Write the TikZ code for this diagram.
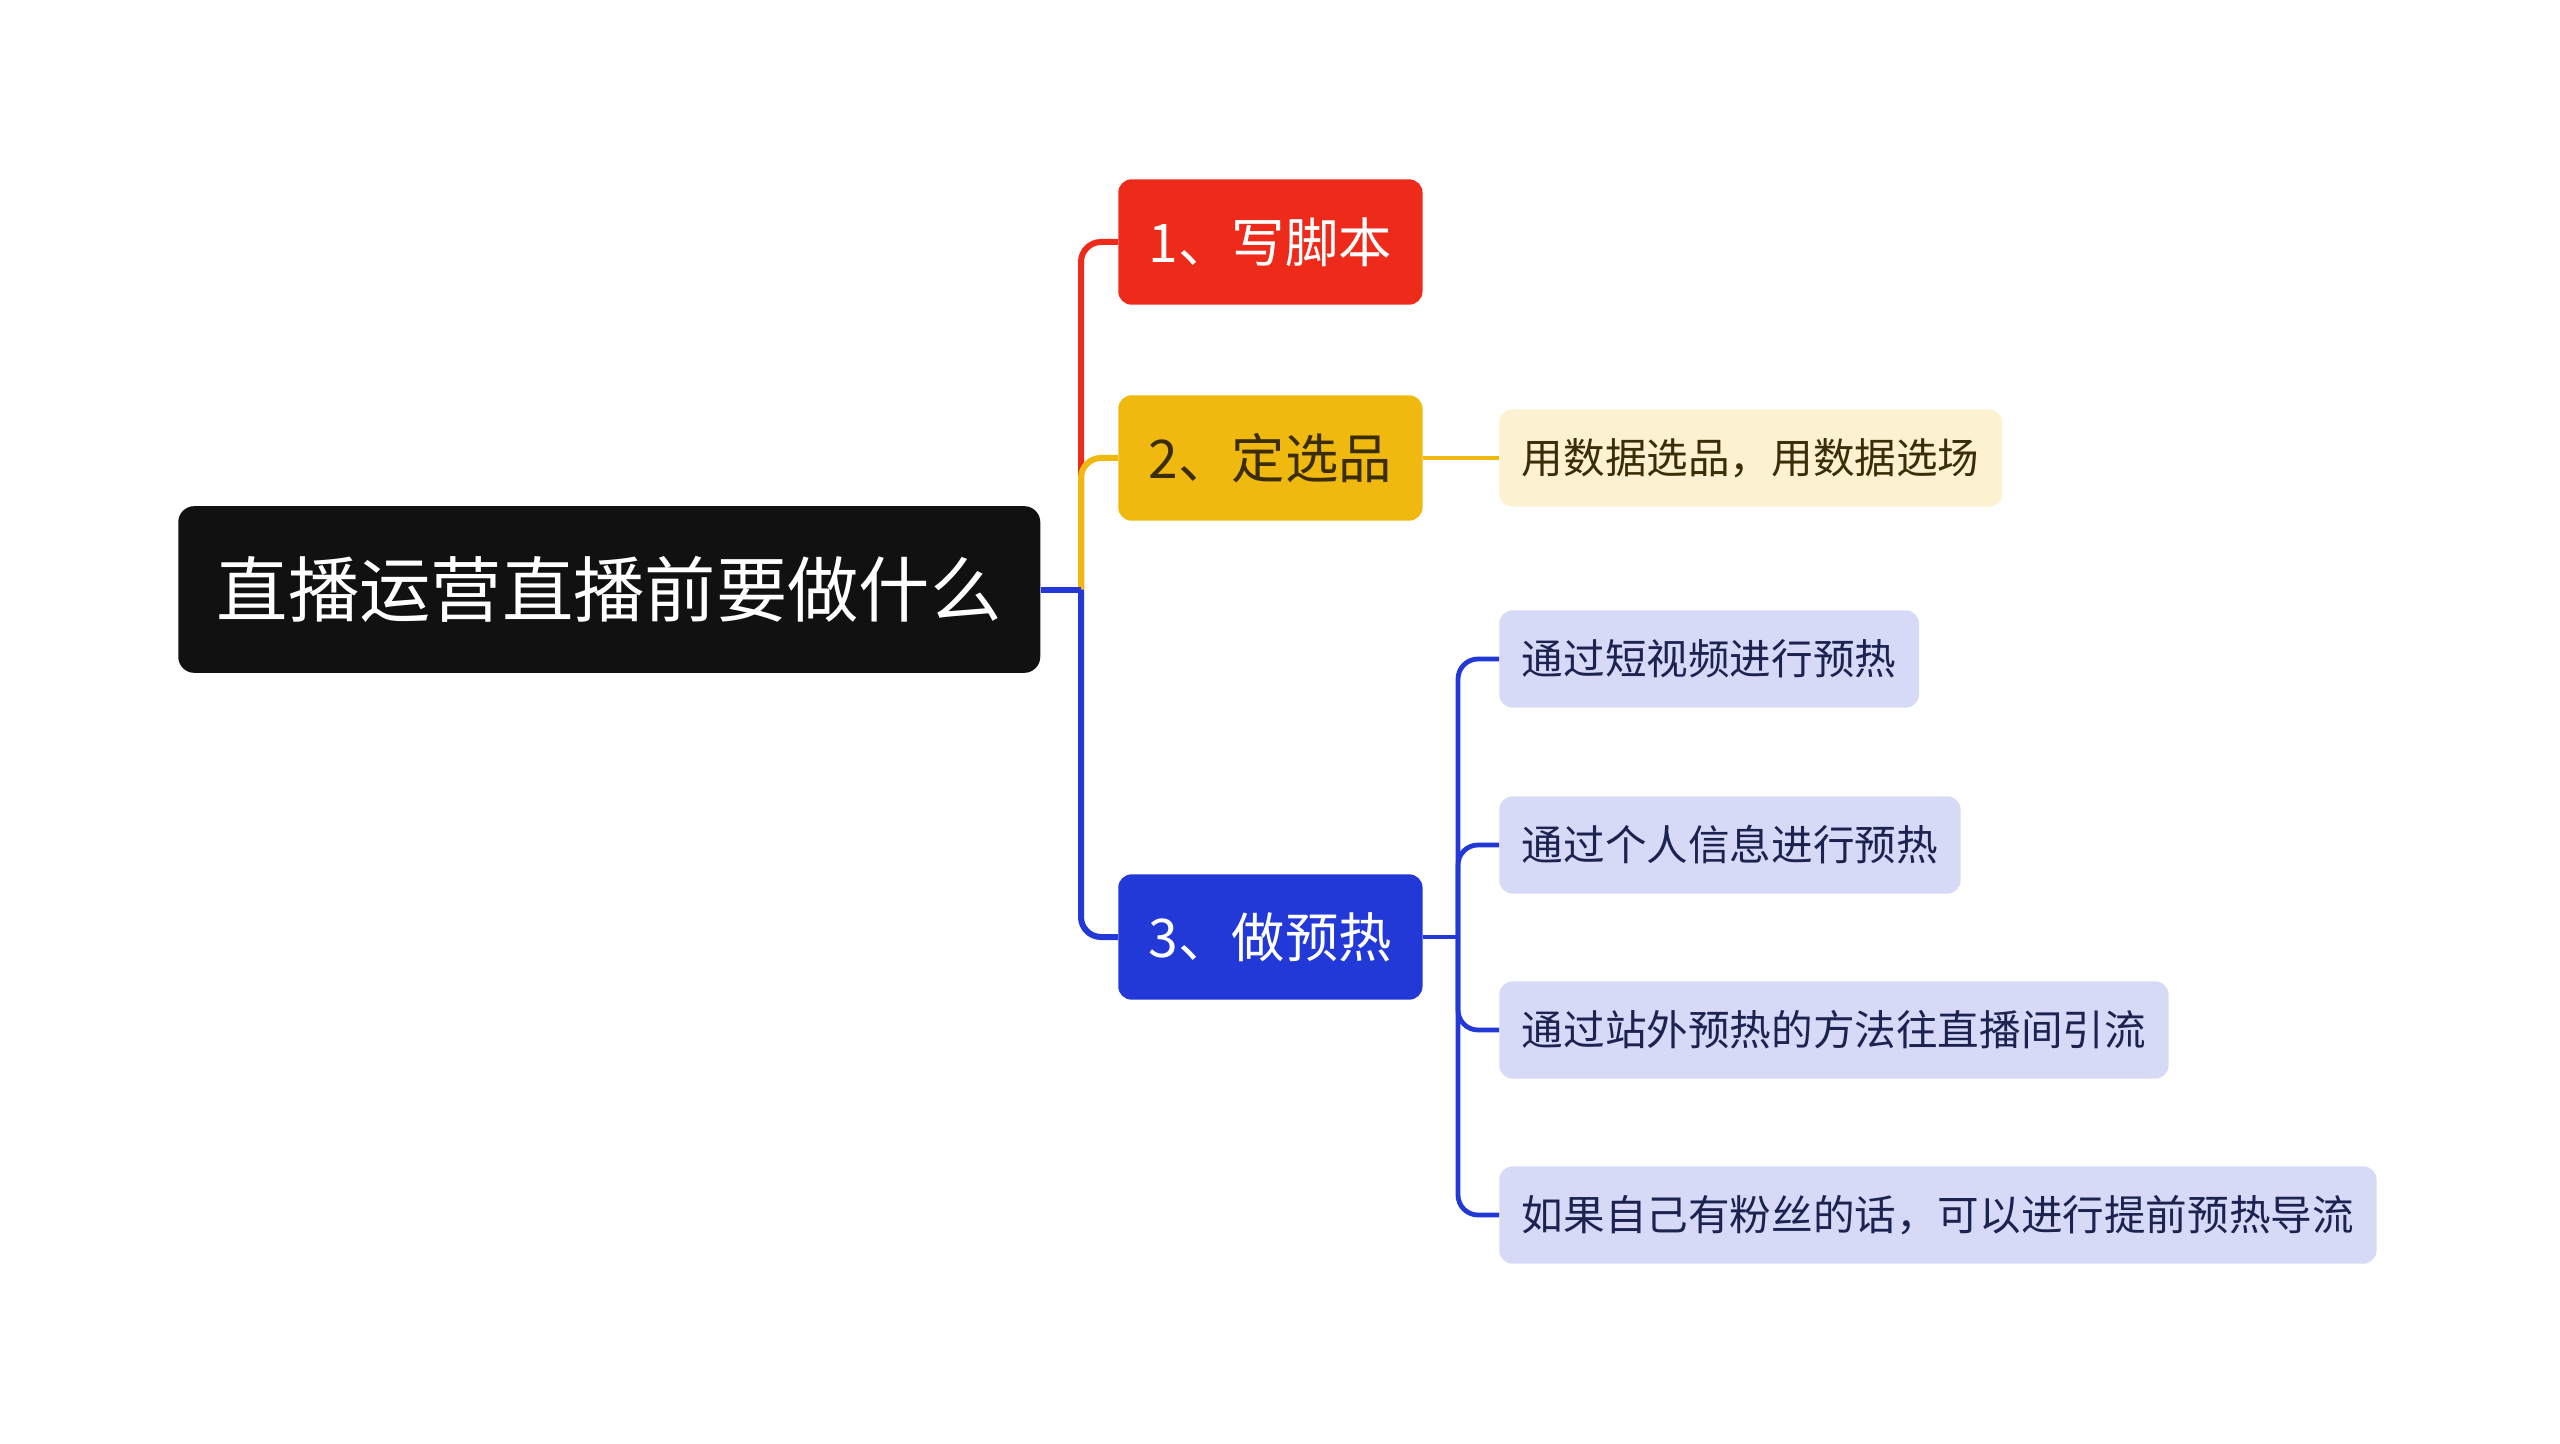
\documentclass[tikz,border=0pt]{standalone}
\usepackage{fontspec}
\newfontfamily\cjk{Noto Sans CJK SC}
\definecolor{rootbg}{HTML}{111111}
\definecolor{redA}{HTML}{EE2B1A}
\definecolor{yelA}{HTML}{F0B90F}
\definecolor{bluA}{HTML}{2339D7}
\definecolor{yelLeaf}{HTML}{FCF1D0}
\definecolor{bluLeaf}{HTML}{D6DAF7}
\definecolor{yelTxt}{HTML}{3A2D08}
\definecolor{bluTxt}{HTML}{1C2350}
\begin{document}
\begin{tikzpicture}[x=0.75pt,y=-0.75pt,
  rootbox/.style={rounded corners=12pt,fill=rootbg,text=white,font=\cjk\fontsize{53.5}{60}\selectfont,minimum height=125pt,inner xsep=29pt,anchor=west,text height=47pt,text depth=6.4pt},
  topicbox/.style={rounded corners=10pt,text=white,font=\cjk\fontsize{40}{48}\selectfont,minimum height=94pt,inner xsep=23pt,anchor=west,text height=35.2pt,text depth=4.8pt},
  leafbox/.style={rounded corners=10pt,fill=bluLeaf,text=bluTxt,font=\cjk\fontsize{31.2}{38}\selectfont,minimum height=73pt,inner xsep=17pt,anchor=west,text height=27.5pt,text depth=3.7pt},
  branch/.style={line width=4.5pt,rounded corners=15pt},
  twig/.style={line width=3.6pt,rounded corners=15pt}]
  \useasboundingbox (0,0) rectangle (2560,1444);
  \node[rootbox] (root) at (178,589.5) {直播运营直播前要做什么};
  \node[topicbox,fill=redA] (t1) at (1118,242) {1、写脚本};
  \node[topicbox,fill=yelA,text=yelTxt] (t2) at (1118,458) {2、定选品};
  \node[topicbox,fill=bluA] (t3) at (1118,937) {3、做预热};
  \node[leafbox,fill=yelLeaf,text=yelTxt] (l0) at (1499,458) {用数据选品，用数据选场};
  \node[leafbox] (l1) at (1499,659) {通过短视频进行预热};
  \node[leafbox] (l2) at (1499,845) {通过个人信息进行预热};
  \node[leafbox] (l3) at (1499,1030) {通过站外预热的方法往直播间引流};
  \node[leafbox] (l4) at (1499,1215) {如果自己有粉丝的话，可以进行提前预热导流};
  % main branches
  \coordinate (j0) at (1081,589.5);
  \draw[branch,redA] (j0) |- (t1.west);
  \draw[branch,yelA] (j0) |- (t2.west);
  \draw[branch,bluA] (j0) |- (t3.west);
  \draw[line width=4.5pt,bluA] (root.east) -- (j0);
  % leaves
  \draw[twig,yelA] (t2.east) -- (l0.west);
  \coordinate (j3) at (1458,937);
  \draw[twig,bluA] (j3) |- (l1.west); \draw[twig,bluA] (j3) |- (l2.west);
  \draw[twig,bluA] (j3) |- (l3.west); \draw[twig,bluA] (j3) |- (l4.west);
  \draw[twig,bluA] (t3.east) -- (j3);
\end{tikzpicture}
\end{document}
